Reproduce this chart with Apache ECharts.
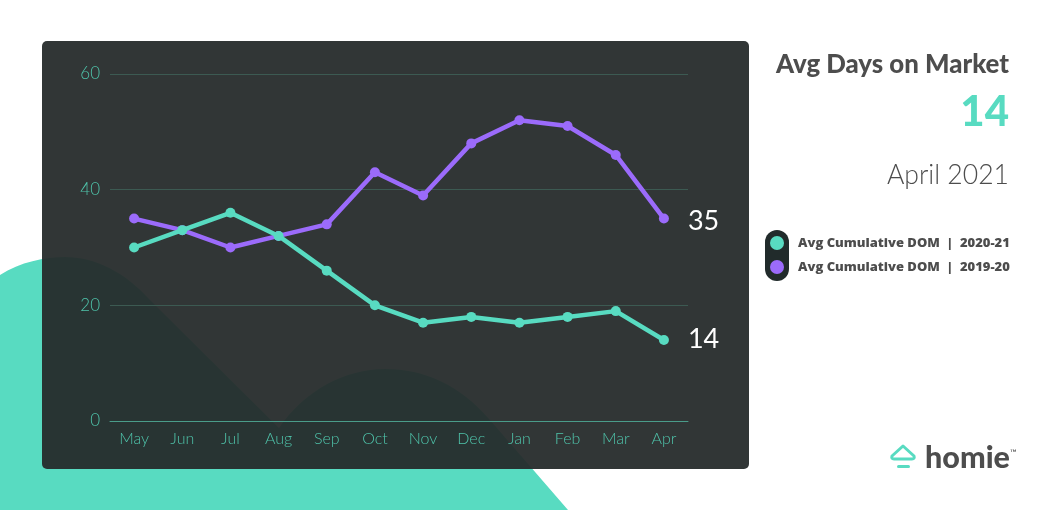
<!DOCTYPE html>
<html>
<head>
<meta charset="utf-8">
<title>Avg Days on Market</title>
<style>
html, body { margin: 0; padding: 0; background: #fff; }
#chart { width: 1060px; height: 510px; }
</style>
<script src="https://cdn.jsdelivr.net/npm/echarts@6/dist/echarts.min.js"></script>
</head>
<body>
<div id="chart"></div>
<script>
const months = ['May', 'Jun', 'Jul', 'Aug', 'Sep', 'Oct', 'Nov', 'Dec', 'Jan', 'Feb', 'Mar', 'Apr'];
const dom2021 = [30, 33, 36, 32, 26, 20, 17, 18, 17, 18, 19, 14];
const dom1920 = [35, 33, 30, 32, 34, 43, 39, 48, 52, 51, 46, 35];
const name2021 = 'Avg Cumulative DOM  |  2020-21';
const name1920 = 'Avg Cumulative DOM  |  2019-20';

const TEAL = '#58dbc1';
const PURPLE = '#9b6bfb';
const GREY = '#4d4d4d';
const AXIS_TEXT = '#4fc4ab';
const FONT = 'Lato';

// graphic has no plain path type, so the two svg shapes get registered
echarts.graphic.registerShape('hills', echarts.graphic.extendPath(
    'M0 275 C20 262 45 257 65 257 C95 257 125 272 150 300 L279 428 C305 390 345 369 385 369 C425 369 460 385 490 420 L568 510 L0 510 Z'
));
echarts.graphic.registerShape('logoRoof', echarts.graphic.extendPath(
    'M903 446 L914 456 Q915 459 912 459 L894 459 Q891 459 892 456 Z'
));

const chart = echarts.init(document.getElementById('chart'));

function lineSeries(name, data, color, z, labelOffset) {
    return {
        name: name,
        type: 'line',
        data: data,
        z: z,
        symbol: 'circle',
        symbolSize: 10,
        showSymbol: true,
        animation: false,
        lineStyle: { color: color, width: 4.5 },
        itemStyle: { color: color },
        endLabel: {
            show: true,
            color: '#fff',
            fontFamily: FONT,
            fontSize: 27,
            distance: 24,
            offset: labelOffset,
            formatter: '{c}'
        }
    };
}

chart.setOption({
    animation: false,
    backgroundColor: '#fff',
    title: [
        { text: 'Avg Days on Market', left: 1009, top: 52, padding: 0, textAlign: 'right',
          textStyle: { color: GREY, fontFamily: FONT, fontWeight: 900, fontSize: 25.8 } },
        { text: '14', left: 1009, top: 91, padding: 0, textAlign: 'right',
          textStyle: { color: TEAL, fontFamily: FONT, fontWeight: 900, fontSize: 42 } },
        { text: 'April 2021', left: 1009, top: 162, padding: 0, textAlign: 'right',
          textStyle: { color: GREY, fontFamily: FONT, fontWeight: 300, fontSize: 26.6 } },
        { text: 'homie', left: 925, top: 443, padding: 0,
          textStyle: { color: GREY, fontFamily: FONT, fontWeight: 900, fontSize: 30.5 } },
        { text: '™', left: 1010, top: 449, padding: 0,
          textStyle: { color: GREY, fontFamily: FONT, fontWeight: 400, fontSize: 9 } }
    ],
    legend: {
        left: 770,
        top: 236,
        padding: 0,
        orient: 'vertical',
        icon: 'circle',
        itemWidth: 14,
        itemHeight: 14,
        itemGap: 10,
        data: [name2021, name1920],
        textStyle: { color: GREY, fontFamily: 'Open Sans', fontWeight: 800, fontSize: 13, padding: [2, 0, 0, 9] }
    },
    grid: { left: 110, right: 372, top: 74, bottom: 89 },
    xAxis: {
        type: 'category',
        data: months,
        axisTick: { show: false },
        axisLine: { lineStyle: { color: '#4a9c8a', width: 1 } },
        axisLabel: { color: AXIS_TEXT, fontFamily: FONT, fontWeight: 300, fontSize: 16, margin: 10 }
    },
    yAxis: {
        type: 'value',
        min: 0,
        max: 60,
        interval: 20,
        axisLine: { show: false },
        axisTick: { show: false },
        splitLine: { lineStyle: { color: '#3c5a52', width: 1 } },
        axisLabel: { color: AXIS_TEXT, fontFamily: FONT, fontWeight: 300, fontSize: 17, margin: 10 }
    },
    series: [
        lineSeries(name2021, dom2021, TEAL, 4, [0, -1]),
        lineSeries(name1920, dom1920, PURPLE, 3, [0, 3])
    ],
    graphic: [
        // teal hills behind the panel
        { type: 'hills', z: -20, silent: true, style: { fill: TEAL } },
        // panel
        { type: 'rect', z: -10, silent: true,
          shape: { x: 42, y: 41, width: 707, height: 428, r: 5 },
          style: { fill: 'rgba(38,43,43,0.95)' } },
        // legend pill
        { type: 'rect', z: -10, silent: true,
          shape: { x: 765, y: 230, width: 24, height: 51, r: 12 },
          style: { fill: '#212b2b' } },
        // logo
        { type: 'logoRoof', z: 1, silent: true,
          style: { fill: 'none', stroke: TEAL, lineWidth: 3, lineJoin: 'round' } },
        { type: 'rect', z: 1, silent: true,
          shape: { x: 897, y: 465, width: 13, height: 3, r: 1.5 },
          style: { fill: TEAL } }
    ]
});
</script>
</body>
</html>
